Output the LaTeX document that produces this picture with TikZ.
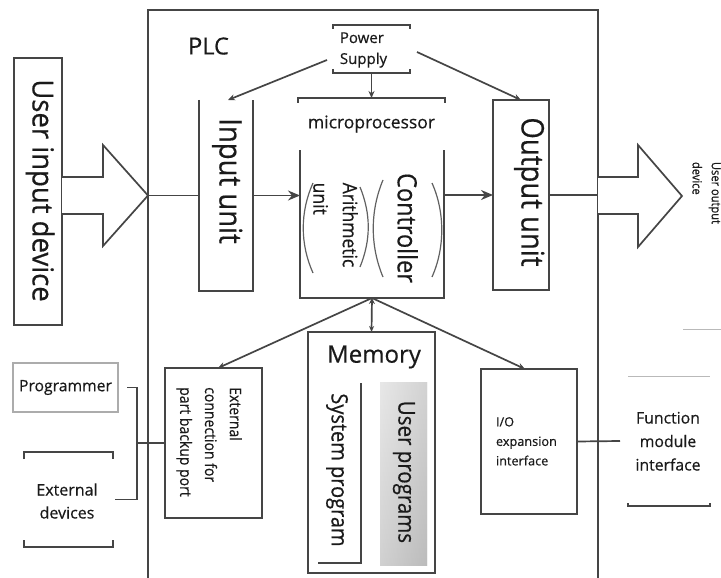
\documentclass[tikz,border=0pt]{standalone}
\usepackage{fontspec}
\setmainfont{Open Sans}[FakeBold=0.5]
\usepackage{graphicx}
\usetikzlibrary{arrows.meta,calc}
\definecolor{lc}{HTML}{454545}
\definecolor{tc}{HTML}{1A1A1A}
\newcommand{\fs}[2]{\fontsize{#1}{#2}\selectfont}
\newcommand{\lines}[1]{\begin{tabular}{@{}l@{}}#1\end{tabular}}
\newcommand{\clines}[1]{\begin{tabular}{@{}c@{}}#1\end{tabular}}
\newcommand{\vtext}[2][1.13]{\rotatebox{-90}{\scalebox{1}[#1]{#2}}}

\begin{document}
\begin{tikzpicture}[x=1pt,y=-1pt,
  ln/.style={draw=lc, line width=1.7pt},
  pale/.style={draw=gray!55, line width=1pt},
  curve/.style={draw=lc!85, line width=1.2pt},
  frame/.style={inner sep=0pt, outer sep=0pt},
  txt/.style={inner sep=0pt, outer sep=0pt, text=tc},
  tip/.style={-{Stealth[length=7pt,width=6pt]}},
  bigtip/.style={-{Stealth[length=12pt,width=10pt]}},
  twotip/.style={{Stealth[length=6pt,width=6pt]}-{Stealth[length=6pt,width=5pt]}},
]
\useasboundingbox[fill=white] (0,0) rectangle (721,578);

% PLC enclosure, open at the lower edge
\draw[ln] (148,578) -- (148,10) -- (598,10) -- (598,578);
\node[txt, font=\fs{23.5}{28}] (plc) at (208.5,46) {PLC};

% power supply
\node[frame, minimum width=77, minimum height=48] (ps) at (371.5,49) {};
\draw[ln] (ps.north west) ++(0,4) |- (ps.north east) -- ++(0,4);
\draw[ln] (ps.south west) ++(0,-4) |- (ps.south east) -- ++(0,-4);
\node[txt, font=\fs{15}{21}] (pst) at (363.5,49.3) {\lines{Power\\Supply}};

% user input device and its big arrow
\node[frame, draw=lc, line width=1.7pt, minimum width=48, minimum height=267] (uid) at (38,191.5) {};
\node[txt, font=\fs{27.5}{33}] (uidt) at (39.5,190.5) {\vtext[1.05]{\lines{User input device}}};
\coordinate (uitip) at (148,195.5);
\draw[ln, fill=white] (uid.east |- 0,177) -- (103,177) -- (103,145) -- (uitip) -- (103,246) -- (103,214) -- (uid.east |- 0,214);

% input unit
\node[frame, minimum width=54, minimum height=191] (inu) at (226,195.5) {};
\draw[ln] (inu.north west) |- (inu.south east) -- (inu.north east);
\node[txt, font=\fs{27.5}{33}] (inut) at (227,181) {\vtext{\lines{Input unit}}};

% microprocessor
\coordinate (mptop) at (371.5,98);
\draw[ln] (298,103) -- (298,98) -- (445,98) -- (445,103);
\node[txt, font=\fs{17.5}{21}] (mpt) at (371.5,124) {microprocessor};
\node[frame, minimum width=144, minimum height=148] (mp) at (372,224) {};
\draw[ln] (mp.north west) |- (mp.south east) -- (mp.north east);
\draw[curve] (313,183) .. controls (300,212) and (300,244) .. (313,273);
\draw[curve] (360,187) .. controls (371,214) and (371,240) .. (360,267);
\draw[curve] (383,180) .. controls (370,211) and (370,246) .. (383,277);
\draw[curve] (432,183) .. controls (445,212) and (445,248) .. (432,277);
\node[txt, font=\fs{17.5}{26}] (aut) at (334,225) {\vtext{\lines{Arithmetic\\unit}}};
\node[txt, font=\fs{23.5}{28}] (ctlt) at (404,228) {\vtext{\lines{Controller}}};

% output unit
\node[frame, draw=lc, line width=1.7pt, minimum width=56, minimum height=190] (out) at (521,195) {};
\node[txt, font=\fs{27.5}{33}] (outt) at (529,192) {\vtext{\lines{Output unit}}};

% user output side
\coordinate (uotip) at (682,196);
\draw[ln, fill=white] (598,177) -- (638,177) -- (638,145) -- (uotip) -- (638,247) -- (638,214) -- (598,214);
\node[txt, font=\fs{11.1}{17}] (uodt) at (706,193) {\vtext{\lines{User output\\device}}};
\draw[pale] (683,329) -- (721,329);

% signal path through the PLC
\draw[ln] (uitip) -- (inu.west);
\draw[ln, bigtip] (inu.east) -- (mp.west |- inu.east);
\draw[ln, bigtip] (mp.east |- out.west) -- (out.west);
\draw[ln] (out.east) -- (598,195);

% power distribution
\draw[ln, tip] (ps.south) -- (mptop);
\draw[ln, tip] ($(ps.west)+(-6,11)$) -- ([xshift=2]inu.north);
\draw[ln, tip] ($(ps.east)+(7,3)$) -- (out.north);

% backup port
\node[frame, draw=lc, line width=1.7pt, minimum width=97, minimum height=150] (ext) at (213.5,443) {};
\node[txt, font=\fs{14}{22}] (extt) at (210,442) {\vtext{\lines{External\\connection for\\part backup port}}};

% memory
\node[frame, draw=lc, line width=1.7pt, minimum width=127, minimum height=241] (mem) at (371.5,452.5) {};
\node[txt, font=\fs{24}{29}] (memt) at (374,357) {Memory};
\node[frame, minimum width=43, minimum height=180] (sysb) at (339.5,473) {};
\draw[ln] (sysb.south west) -| (sysb.north east);
\node[txt, font=\fs{20}{24}] (syst) at (337,470) {\vtext{\lines{System program}}};
\node[frame, minimum width=47, minimum height=183, left color=gray!8, right color=gray!50] (usrb) at (403.5,473.5) {};
\shade[top color=gray!25, bottom color=gray!55, opacity=0.6] (usrb.north west) rectangle (usrb.south east);
\node[txt, font=\fs{20.5}{24.6}] (usrt) at (404,472) {\vtext{\lines{User programs}}};

% I/O expansion
\node[frame, draw=lc, line width=1.7pt, minimum width=96, minimum height=145] (io) at (529,441.5) {};
\node[txt, font=\fs{12.7}{19.5}, anchor=west] (iot) at (496,442) {\lines{I/O\\expansion\\interface}};

% function module interface
\node[frame, minimum width=82, minimum height=130] (fmi) at (669,441) {};
\draw[pale] (fmi.north west) -- (fmi.north east);
\draw[ln] (fmi.south west) ++(0,-3) |- (fmi.south east) -- ++(0,-3);
\node[txt, font=\fs{15.8}{23.5}] (fmit) at (668,442.3) {\clines{Function\\module\\interface}};
\draw[ln] (io.east) -- ([xshift=-8]fmi.west);

% microprocessor bus to the lower units
\draw[ln, tip] (mp.south) -- ([xshift=4.5]ext.north);
\draw[ln, twotip] (mp.south) -- (mem.north);
\draw[ln, tip] (mp.south) -- ([xshift=-4]io.north);

% programmer and external devices
\node[frame, draw=gray!65, line width=2.2pt, minimum width=105, minimum height=49, text=tc, font=\fs{15.7}{19}] (prog) at (65.5,387.5) {Programmer};
\node[frame, minimum width=89, minimum height=95] (extd) at (68.5,499.5) {};
\draw[ln] (extd.north west) ++(0,7) |- (extd.north east) -- ++(0,7);
\draw[ln] (extd.south west) ++(0,-7) |- (extd.south east) -- ++(0,-7);
\node[txt, font=\fs{16}{23}] (extdt) at (67,502.4) {\clines{External\\devices}};
\coordinate (jt) at (137,387.5);
\coordinate (jb) at (137,499.5);
\draw[ln] ([xshift=9]prog.east) -- (jt) -- (jb) -- ([xshift=2]extd.east);
\draw[ln] (jt |- ext.west) -- (ext.west);
\end{tikzpicture}
\end{document}
